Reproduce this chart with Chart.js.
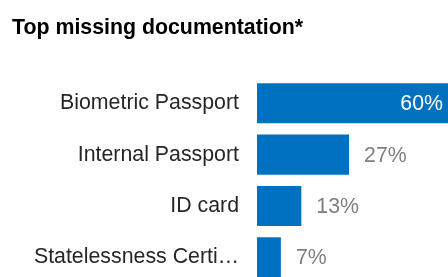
<!DOCTYPE html>
<html><head><meta charset="utf-8">
<script src="https://cdn.jsdelivr.net/npm/chart.js@4"></script>
<style>
html,body{margin:0;padding:0;overflow:hidden;background:#fff;}
canvas{display:block;}
</style></head>
<body><canvas id="c" width="448" height="283" style="width:448px;height:283px"></canvas>
<script>
const categories = ["Biometric Passport", "Internal Passport", "ID card", "Statelessness Certi…"];
const values = [60, 27, 13, 7];
const titleText = "Top missing documentation*";
const FONT = "'Liberation Sans', Arial, sans-serif";

const valueLabels = {
  id: 'valueLabels',
  afterDatasetsDraw(chart) {
    const ctx = chart.ctx, area = chart.chartArea;
    const meta = chart.getDatasetMeta(0);
    ctx.save();
    ctx.font = "21.33px " + FONT;
    ctx.textBaseline = 'middle';
    meta.data.forEach((bar, i) => {
      const txt = values[i] + '%';
      if (bar.x > area.right - 60) {
        ctx.fillStyle = '#ffffff';
        ctx.textAlign = 'right';
        ctx.fillText(txt, Math.min(bar.x, area.right) - 5, bar.y + 1);
      } else {
        ctx.fillStyle = '#7f7f7f';
        ctx.textAlign = 'left';
        ctx.fillText(txt, bar.x + 15, bar.y + 1);
      }
    });
    ctx.restore();
  }
};

new Chart(document.getElementById('c'), {
  type: 'bar',
  data: {
    labels: categories,
    datasets: [{
      data: values,
      backgroundColor: '#0070c0',
      borderWidth: 0,
      barPercentage: 0.78,
      categoryPercentage: 1
    }]
  },
  options: {
    indexAxis: 'y',
    responsive: false,
    animation: false,
    devicePixelRatio: 1,
    layout: { padding: { left: 12, right: 0, top: 0, bottom: 0 } },
    plugins: {
      legend: { display: false },
      tooltip: { enabled: false },
      title: {
        display: true,
        text: titleText,
        align: 'start',
        color: '#000000',
        font: { family: FONT, size: 21.33, weight: 'bold', lineHeight: 1.2 },
        padding: { top: 15, bottom: 37 }
      }
    },
    scales: {
      x: { display: false, min: 0, max: 56 },
      y: {
        grid: { display: false, drawTicks: false },
        border: { display: false },
        ticks: { color: '#262626', padding: 18, font: { family: FONT, size: 21.33 } },
        afterFit(s) { s.width = 245; s.paddingTop = 0; s.paddingBottom = 0; }
      }
    }
  },
  plugins: [valueLabels]
});
</script></body></html>
